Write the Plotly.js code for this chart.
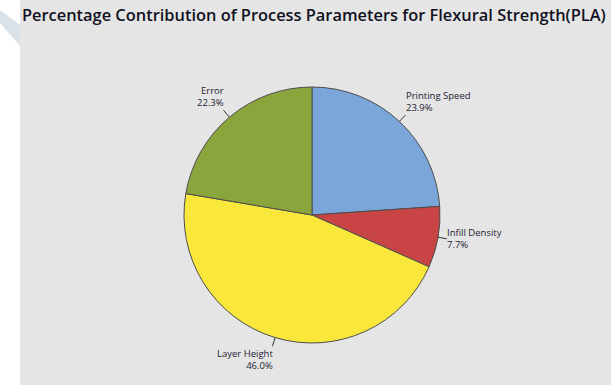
<!DOCTYPE html>
<html>
<head>
<meta charset="utf-8">
<script src="https://cdn.plot.ly/plotly-3.0.1.min.js"></script>
<style>
  html, body { margin: 0; padding: 0; background: #ffffff; width: 611px; height: 385px; overflow: hidden; }
  #stripe { position: absolute; left: 0; top: 0; width: 20px; height: 60px; background: #dbe2e7;
            clip-path: polygon(0 10px, 20px 25px, 20px 46px, 0 23px); }
  #chart { position: absolute; left: 20px; top: 0; width: 591px; height: 385px; }
</style>
</head>
<body>
<div id="stripe"></div>
<div id="chart"></div>
<script>
// Contribution of each process parameter (percent)
const factors = ["Printing Speed", "Infill Density", "Layer Height", "Error"];
const contributions = [23.9, 7.7, 46.0, 22.3];
const sliceColors = ["#7ba6da", "#c94444", "#f9e83b", "#8aa53c"];

// Figure geometry in pixels
const W = 591, H = 385;
const CX = 292, CY = 215, R = 128;   // pie centre and radius
const LEAD = 9;                      // leader line length

const px = x => x / W;
const py = y => 1 - y / H;

const trace = {
  type: "pie",
  labels: factors,
  values: contributions,
  sort: false,
  direction: "clockwise",
  rotation: 0,
  textinfo: "none",
  hoverinfo: "label+percent",
  showlegend: false,
  marker: { colors: sliceColors, line: { color: "#4d4d4d", width: 1 } },
  domain: { x: [px(CX - R), px(CX + R)], y: [py(CY + R), py(CY - R)] }
};

// Labels with short leader lines at each slice's mid-angle
const total = contributions.reduce((a, b) => a + b, 0);
const shapes = [], annotations = [];
let cum = 0;
contributions.forEach((v, i) => {
  const mid = (cum + v / 2) / total * 2 * Math.PI;
  cum += v;
  const s = Math.sin(mid), c = Math.cos(mid);
  const x0 = CX + R * s, y0 = CY - R * c;
  const x1 = CX + (R + LEAD) * s, y1 = CY - (R + LEAD) * c;
  shapes.push({ type: "line", xref: "paper", yref: "paper",
    x0: px(x0), y0: py(y0), x1: px(x1), y1: py(y1),
    line: { color: "#333333", width: 1 } });
  annotations.push({
    xref: "paper", yref: "paper", x: px(x1), y: py(y1),
    text: factors[i] + "<br>" + v.toFixed(1) + "%",
    showarrow: false,
    borderpad: 0,
    xshift: s >= 0 ? -1 : 1,
    xanchor: s >= 0 ? "left" : "right",
    align: s >= 0 ? "left" : "right",
    yanchor: c > 0.5 ? "bottom" : (c < -0.5 ? "top" : "middle"),
    font: { family: "Open Sans, sans-serif", size: 9.5, color: "#222233" }
  });
});

const layout = {
  width: W, height: H,
  margin: { l: 0, r: 0, t: 0, b: 0 },
  paper_bgcolor: "#e5e5e5",
  title: {
    text: "Percentage Contribution of Process Parameters for Flexural Strength(PLA)",
    xref: "container", yref: "container",
    x: 2 / W, xanchor: "left",
    y: 1 - 15 / H, yanchor: "middle",
    font: { family: "Open Sans, sans-serif", size: 16.4, weight: 600, color: "#111122" }
  },
  shapes: shapes,
  annotations: annotations
};

Plotly.newPlot("chart", [trace], layout, { displayModeBar: false, staticPlot: true });
</script>
</body>
</html>
